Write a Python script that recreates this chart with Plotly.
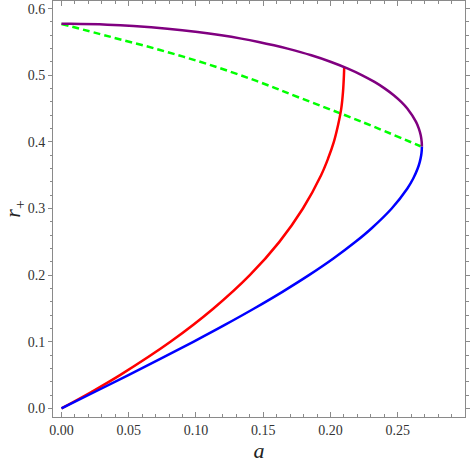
import plotly.graph_objects as go

# lower branch (blue)
blue_a = [0, 0.02497, 0.04975, 0.07416, 0.0980, 0.12109, 0.14325, 0.16427, 0.18397,
          0.20216, 0.21862, 0.23040, 0.24551, 0.25714, 0.26151, 0.26481, 0.26639,
          0.26743, 0.26783, 0.26795]
blue_r = [0, 0.025, 0.05, 0.075, 0.10, 0.125, 0.15, 0.175, 0.20,
          0.225, 0.25, 0.27, 0.30, 0.33, 0.345, 0.36, 0.37,
          0.38, 0.387, 0.393]

# upper branch (purple)
purple_a = [0.26795, 0.26781, 0.26709, 0.26570, 0.26360, 0.25709, 0.25255, 0.24704,
            0.24047, 0.23271, 0.22361, 0.21295, 0.20047, 0.18573, 0.16812, 0.15794,
            0.14657, 0.13372, 0.11888, 0.10120, 0.07877, 0.05355, 0.03412, 0.0066, 0]
purple_r = [0.393, 0.40, 0.41, 0.42, 0.43, 0.45, 0.46, 0.47,
            0.48, 0.49, 0.50, 0.51, 0.52, 0.53, 0.54, 0.545,
            0.55, 0.555, 0.56, 0.565, 0.570, 0.574, 0.576, 0.5773, 0.57735]

# red curve
red_a = [0, 0.0225, 0.0435, 0.081, 0.113, 0.140, 0.162, 0.1795, 0.193, 0.1982,
         0.2025, 0.2056, 0.208, 0.2093, 0.2100, 0.2102]
red_r = [0, 0.025, 0.05, 0.10, 0.15, 0.20, 0.25, 0.30, 0.35, 0.375,
         0.40, 0.425, 0.45, 0.475, 0.50, 0.512]

# green dashed curve
green_a = [0, 0.0359, 0.0733, 0.1082, 0.145, 0.178, 0.2229, 0.2670]
green_r = [0.577, 0.558, 0.538, 0.517, 0.4915, 0.4656, 0.4305, 0.3935]

fig = go.Figure()

fig.add_trace(go.Scatter(x=green_a, y=green_r, mode='lines',
                         line=dict(color='#00ff00', width=2.5, dash='7px,4px', shape='spline')))
fig.add_trace(go.Scatter(x=red_a, y=red_r, mode='lines',
                         line=dict(color='#ff0000', width=2.5, shape='spline')))
fig.add_trace(go.Scatter(x=blue_a, y=blue_r, mode='lines',
                         line=dict(color='#0000ff', width=2.5, shape='spline')))
fig.add_trace(go.Scatter(x=purple_a, y=purple_r, mode='lines',
                         line=dict(color='#800080', width=2.5, shape='spline')))

frame = '#8a8a8a'
serif = 'Liberation Serif'
tickfont = dict(family=serif, size=14, color='#333333')

fig.update_layout(
    width=474, height=468,
    margin=dict(l=53, r=9, t=1, b=51),
    plot_bgcolor='white', paper_bgcolor='white',
    showlegend=False,
    xaxis=dict(
        range=[-0.0063, 0.3], dtick=0.05, tickformat='.2f',
        showgrid=False, zeroline=False, automargin=False,
        showline=True, linecolor=frame, linewidth=1, mirror='ticks',
        ticks='inside', ticklen=5, tickcolor=frame, tickwidth=1,
        minor=dict(dtick=0.01, ticks='inside', ticklen=3, tickcolor=frame),
        tickfont=tickfont,
        title=dict(text='<i>a</i>', standoff=4,
                   font=dict(family=serif, size=22, color='#222222')),
    ),
    yaxis=dict(
        range=[-0.0129, 0.6115], dtick=0.1, tickformat='.1f',
        showgrid=False, zeroline=False, automargin=False,
        showline=True, linecolor=frame, linewidth=1, mirror='ticks',
        ticks='outside', ticklen=4, tickcolor=frame, tickwidth=1,
        minor=dict(dtick=0.02, ticks='outside', ticklen=2.5, tickcolor=frame),
        tickfont=tickfont,
        title=dict(text='<i>r</i><sub>+</sub>', standoff=2,
                   font=dict(family=serif, size=22, color='#222222')),
    ),
)

# drop the page's default body margin so the figure sits at the window corner
fig.write_html("out.html", config={'displayModeBar': False},
               post_script="document.body.style.margin='0';")
